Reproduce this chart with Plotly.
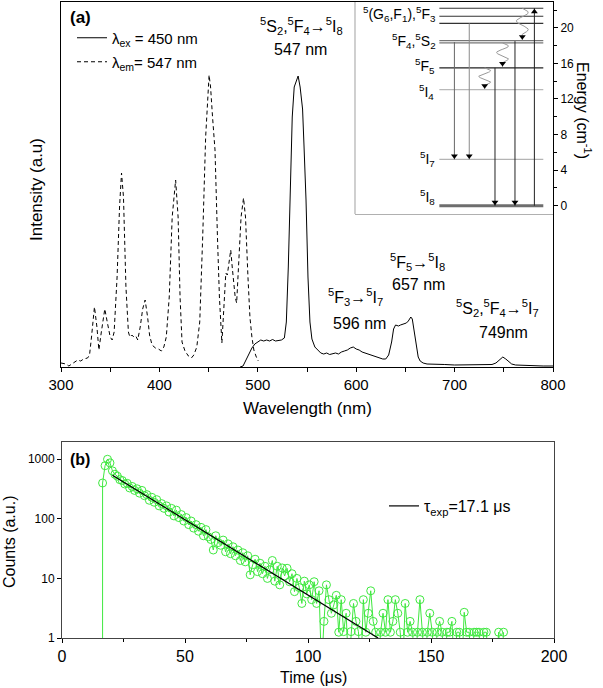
import numpy as np
import plotly.graph_objects as go

W, H = 603, 688
FONT = "Liberation Sans, Arial, sans-serif"

# ---------------- Panel (a): excitation / emission spectra ----------------
ex_wl = [300, 305, 308, 311, 314, 317, 320, 323, 327, 329, 331, 334, 336.5, 338.5, 341, 344.5,
         347, 350, 352, 354, 357, 359.5, 361.5, 363.5, 366, 368.5, 370, 372, 374, 376, 378,
         380.5, 383, 385.5, 388, 390, 392.5, 396, 399, 402, 404.5, 407, 410, 413, 416.5, 419,
         421, 423, 426, 429.5, 432.5, 435, 438, 441, 444, 447, 450.5, 452, 454, 456.5, 459,
         461, 463.5, 465.5, 467.5, 469, 471, 472.5, 474, 475.5, 477, 478.5, 480.5, 483, 485.5,
         487.5, 490, 492, 494, 496, 498.5, 500.5]
ex_int = [4, 3, 1, 3, 5, 7, 6, 8, 9, 12, 30, 60, 40, 17, 35, 58,
          45, 30, 27, 35, 90, 160, 194, 170, 80, 35, 30, 32, 30, 31, 27,
          40, 58, 67, 50, 32, 22, 19, 18, 16, 20, 30, 70, 150, 187, 150,
          70, 25, 16, 11, 9, 12, 20, 45, 130, 230, 292, 280, 250, 217, 130,
          70, 24, 60, 94, 92, 105, 117, 100, 80, 70, 64, 100, 150, 169,
          150, 90, 50, 30, 17, 10, 6]

em_wl = [482, 485, 488, 491, 494, 497, 500, 503, 506, 509, 512, 515, 518, 521, 524, 527, 529,
         531, 533, 535, 537, 539, 541, 543, 545.5, 547, 549, 551, 553, 555, 558, 561, 564,
         567, 570, 573, 576, 579, 582, 585, 588, 591, 594, 597, 600, 603, 606, 609, 612, 615,
         618, 621, 624, 627, 630, 633, 636, 638, 640, 643, 645, 648, 651, 653, 655.5, 657,
         659, 661, 663, 665, 668, 672, 680, 690, 700, 710, 720, 730, 738, 742, 746, 749, 752,
         755, 758, 762, 770, 780, 790, 800]
em_int = [0, 1, 7, 13, 19, 23, 25, 27, 26, 27, 26, 27.5, 26, 26.5, 27, 29, 45,
          100, 190, 250, 280, 285, 291, 280, 258, 220, 167, 90, 45, 28, 20, 17, 14,
          13, 14, 12.5, 13, 14, 13, 15, 16, 17, 19, 20, 18, 17, 15, 14, 13, 12,
          11, 10, 9, 8, 8, 12, 25, 38, 42, 41, 42, 43, 44, 46, 50, 48,
          35, 22, 10, 6, 4, 3, 3, 2.5, 2, 2, 2, 2, 2.5, 4, 8, 10, 8,
          5, 3, 2, 1.5, 1, 1, 1]

wl_ticks = [300, 400, 500, 600, 700, 800]

# ---------------- Inset: energy levels (10^3 cm^-1) ----------------
level_E = [0.0, 5.2, 13.05, 15.5, 18.3, 18.55, 20.5, 21.3, 22.2]
rad_from = [18.4, 20.5, 15.5, 18.5, 0.0]
rad_to = [5.2, 5.2, 0.0, 0.0, 22.2]
nonrad_from = [22.2, 18.3, 15.5]
nonrad_to = [18.6, 15.6, 13.1]
energy_ticks = [0, 4, 8, 12, 16, 20]

# ---------------- Panel (b): luminescence decay ----------------
decay_t0 = 16.5
decay_counts = [0.3, 400, 780, 1000, 870, 640, 560, 520, 455, 440, 385, 395, 330, 350, 300,
                320, 270, 300, 245, 255, 205, 230, 190, 210, 165, 180, 150, 165, 130, 150,
                112, 140, 105, 118, 92, 105, 80, 92, 70, 80, 62, 72, 52, 66, 50, 45, 30,
                52, 40, 36, 44, 28, 38, 26, 34, 24, 30, 20, 27, 19, 24, 11.5, 17, 21, 13,
                18, 12, 16, 10, 14, 20, 9, 16, 7.8, 15, 11, 14.8, 8.8, 12, 6, 10, 7, 3.8,
                9, 5.5, 7.8, 4.4, 8.8, 3.8, 6.2, 0.3, 1.9, 7.8, 4.4, 2.6, 3.6, 5.2, 1.25,
                4.4, 1.28, 2.6, 0.3, 1.28, 3.8, 1.9, 1.28, 0.3, 4.4, 1.25, 2.6, 6.2, 1.9,
                1.25, 0.3, 1.25, 2.6, 1.25, 4.4, 1.25, 1.9, 4.4, 2.6, 1.25, 0.3, 3.8, 1.25,
                1.9, 1.25, 0.3, 1.25, 4.4, 1.25, 0.3, 1.25, 2.6, 1.25, 0.3, 1.25, 1.9, 1.25,
                0.3, 1.25, 1.25, 1.9, 0.3, 1.25, 1.25, 0.3, 2.7, 1.25, 1.25, 0.3, 1.25,
                1.25, 1.25, 0.3, 1.25, 1.25, 0.3, 0.3, 0.3, 0.3, 1.25, 0.3, 1.25]
decay_t = [decay_t0] + [decay_t0 + k for k in range(len(decay_counts) - 1)]
fit_t = [20.5, 128.5]
fit_counts = [540, 1]
time_ticks = [0, 50, 100, 150, 200]
count_ticks = [1, 10, 100, 1000]


def px(x):
    return x / W


def py(y):
    return 1 - y / H


fig = go.Figure()

# spectra
fig.add_trace(go.Scatter(x=em_wl, y=em_int, mode="lines", line=dict(color="black", width=1),
                         name="λ<sub>ex</sub> = 450 nm", legend="legend", xaxis="x", yaxis="y"))
fig.add_trace(go.Scatter(x=ex_wl, y=ex_int, mode="lines",
                         line=dict(color="black", width=1, dash="4px,3px"),
                         name="λ<sub>em</sub>= 547 nm", legend="legend2", xaxis="x", yaxis="y"))

# inset level lines
lvl_x = [0.426, 0.951]
lvl_col = ["#6e6e6e", "#b4b4b4", "#b9b9b9", "#222222", "#555555", "#555555", "#333333", "#333333", "#333333"]
lvl_w = [3, 1.2, 1.2, 1.3, 1, 1, 1.2, 1.2, 1.2]
for E, c, w in zip(level_E, lvl_col, lvl_w):
    fig.add_trace(go.Scatter(x=lvl_x, y=[E, E], mode="lines", line=dict(color=c, width=w),
                             showlegend=False, hoverinfo="skip", xaxis="x3", yaxis="y3"))

# radiative arrows
rad_x = [0.502, 0.577, 0.707, 0.808, 0.906]
rad_col = ["#666666", "#8a8a8a", "#222222", "#222222", "#222222"]
inset_h = 212.0
E_span = 22.9 + 0.93
u_per_px = E_span / inset_h
for xx, e0, e1, c in zip(rad_x, rad_from, rad_to, rad_col):
    fig.add_trace(go.Scatter(x=[xx, xx], y=[e0, e1], mode="lines", line=dict(color=c, width=1),
                             showlegend=False, hoverinfo="skip", xaxis="x3", yaxis="y3"))
    up = e1 > e0
    off = 3.5 * u_per_px
    fig.add_trace(go.Scatter(x=[xx], y=[e1 - off if up else e1 + off], mode="markers",
                             marker=dict(symbol="triangle-up" if up else "triangle-down", size=6,
                                         color="black", line=dict(width=0)),
                             showlegend=False, hoverinfo="skip", xaxis="x3", yaxis="y3"))

# non-radiative (wavy) relaxations
nr_x = [0.845, 0.745, 0.655]
for xx, e0, e1 in zip(nr_x, nonrad_from, nonrad_to):
    s = np.linspace(0, 1, 60)
    ys = e0 + (e1 - e0) * s
    xs = xx + 0.03 * np.sin(2 * np.pi * 1.5 * np.clip(s / 0.8, 0, 1))
    fig.add_trace(go.Scatter(x=xs, y=ys, mode="lines", line=dict(color="#999999", width=1),
                             showlegend=False, hoverinfo="skip", xaxis="x3", yaxis="y3"))
    fig.add_trace(go.Scatter(x=[xx], y=[e1 + 3.5 * u_per_px], mode="markers",
                             marker=dict(symbol="triangle-down", size=6, color="black"),
                             showlegend=False, hoverinfo="skip", xaxis="x3", yaxis="y3"))

# decay data
fig.add_trace(go.Scatter(x=decay_t, y=decay_counts, mode="lines+markers",
                         line=dict(color="#3fe83f", width=1),
                         marker=dict(symbol="circle-open", size=8, color="#3fe83f", line=dict(width=1)),
                         showlegend=False, xaxis="x2", yaxis="y2"))
fig.add_trace(go.Scatter(x=fit_t, y=fit_counts, mode="lines", line=dict(color="black", width=1.2),
                         name="τ<sub>exp</sub>=17.1 μs", legend="legend3", xaxis="x2", yaxis="y2"))

ann = []


def txt(x, y, text, size, xanchor="center", angle=0, color="black"):
    ann.append(dict(x=px(x), y=py(y), xref="paper", yref="paper", text=text, showarrow=False,
                    xanchor=xanchor, yanchor="middle", textangle=angle,
                    font=dict(family=FONT, size=size, color=color)))


txt(68, 17, "<b>(a)</b>", 17, "left")
txt(301, 26, "<sup>5</sup>S<sub>2</sub>,<sup>5</sup>F<sub>4</sub>→<sup>5</sup>I<sub>8</sub>", 16)
txt(300, 49, "547 nm", 16)
txt(355, 297, "<sup>5</sup>F<sub>3</sub>→<sup>5</sup>I<sub>7</sub>", 16)
txt(360, 323, "596 nm", 16)
txt(417, 262, "<sup>5</sup>F<sub>5</sub>→<sup>5</sup>I<sub>8</sub>", 16)
txt(418, 284, "657 nm", 16)
txt(497, 308, "<sup>5</sup>S<sub>2</sub>,<sup>5</sup>F<sub>4</sub>→<sup>5</sup>I<sub>7</sub>", 16)
txt(503, 332, "749nm", 16)
txt(438, 14, "<sup>5</sup>(G<sub>6</sub>,F<sub>1</sub>),<sup>5</sup>F<sub>3</sub>", 14, "right")
txt(438, 41, "<sup>5</sup>F<sub>4</sub>,<sup>5</sup>S<sub>2</sub>", 14, "right")
txt(437, 66, "<sup>5</sup>F<sub>5</sub>", 14, "right")
txt(436, 92, "<sup>5</sup>I<sub>4</sub>", 14, "right")
txt(437, 159, "<sup>5</sup>I<sub>7</sub>", 14, "right")
txt(437, 197, "<sup>5</sup>I<sub>8</sub>", 14, "right")
txt(584, 110, "Energy (cm<sup>-1</sup>)", 16, angle=90)
txt(36, 190, "Intensity (a.u)", 17, angle=-90)
txt(307, 408, "Wavelength (nm)", 17)
txt(68, 459, "<b>(b)</b>", 16, "left")
txt(9, 542, "Counts (a.u.)", 16, angle=-90)
txt(313, 677, "Time (μs)", 16)

shapes = [
    dict(type="line", xref="x3 domain", yref="y3 domain", x0=0, x1=0, y0=0, y1=1,
         line=dict(color="#b0b0b0", width=1.2)),
]

axis_common = dict(showgrid=False, zeroline=False, showline=True, linecolor="black", linewidth=1,
                   tickfont=dict(family=FONT, size=15, color="black"), ticks="outside",
                   ticklen=4, tickcolor="black", automargin=False)

fig.update_layout(
    width=W, height=H, margin=dict(l=0, r=0, t=0, b=0),
    paper_bgcolor="white", plot_bgcolor="rgba(0,0,0,0)",
    font=dict(family=FONT, color="black"),
    annotations=ann, shapes=shapes,
    xaxis=dict(**axis_common, domain=[px(61), px(553)], range=[300, 800], tickvals=wl_ticks,
               mirror=True, anchor="y", minor=dict(ticks="outside", dtick=50, ticklen=4, tickcolor="black")),
    yaxis=dict(showgrid=False, zeroline=False, showline=True, linecolor="black", mirror=True,
               domain=[py(367), py(2)], range=[0, 365], showticklabels=False, ticks="", anchor="x"),
    xaxis2=dict(**{**axis_common, "linecolor": "#444444", "tickfont": dict(family=FONT, size=16, color="black")},
                domain=[px(62), px(554)], range=[0, 200], tickvals=time_ticks, mirror=True, anchor="y2",
                minor=dict(ticks="outside", dtick=25, ticklen=3, tickcolor="black")),
    yaxis2=dict(**{**axis_common, "linecolor": "#444444", "tickfont": dict(family=FONT, size=12, color="black")},
                type="log", domain=[py(638), py(442)], range=[0, np.log10(1950)], tickvals=count_ticks,
                ticktext=[str(v) for v in count_ticks], mirror=True, anchor="x2"),
    xaxis3=dict(domain=[px(355), px(553)], range=[0, 1], showgrid=False, zeroline=False,
                showline=True, linecolor="#b0b0b0", linewidth=1.2, showticklabels=False, ticks="",
                anchor="y3"),
    yaxis3=dict(domain=[py(214), py(2)], range=[-0.93, 22.9], side="right", anchor="x3",
                showgrid=False, zeroline=False, showline=False, tickvals=energy_ticks,
                ticks="outside", ticklen=4, tickcolor="black",
                tickfont=dict(family=FONT, size=12, color="black"),
                minor=dict(ticks="outside", dtick=2, tick0=0, ticklen=3, tickcolor="black")),
    legend=dict(x=px(72), y=py(38), xanchor="left", yanchor="middle", bgcolor="rgba(0,0,0,0)",
                font=dict(family=FONT, size=15, color="black")),
    legend2=dict(x=px(72), y=py(62), xanchor="left", yanchor="middle", bgcolor="rgba(0,0,0,0)",
                 font=dict(family=FONT, size=15, color="black")),
    legend3=dict(x=px(384), y=py(506), xanchor="left", yanchor="middle", bgcolor="rgba(0,0,0,0)",
                 font=dict(family=FONT, size=16, color="black")),
)

fig.write_html("out.html", config={"displayModeBar": False},
               post_script="document.body.style.margin='0px';document.body.style.overflow='hidden';")
